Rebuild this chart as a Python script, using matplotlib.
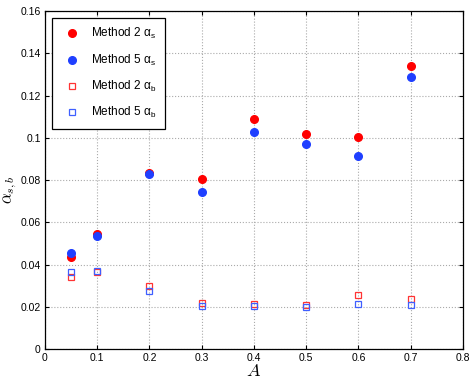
import matplotlib.pyplot as plt

A = [0.05, 0.1, 0.2, 0.3, 0.4, 0.5, 0.6, 0.7]
m2_as = [0.0435, 0.0545, 0.0835, 0.0806, 0.1090, 0.1018, 0.1005, 0.1338]
m5_as = [0.0455, 0.0535, 0.0828, 0.0741, 0.1027, 0.0969, 0.0915, 0.1289]
m2_ab = [0.0340, 0.0366, 0.0300, 0.0219, 0.0215, 0.0208, 0.0256, 0.0237]
m5_ab = [0.0365, 0.0368, 0.0273, 0.0202, 0.0202, 0.0197, 0.0211, 0.0206]

plt.rcParams['font.family'] = ['Liberation Sans', 'DejaVu Sans']
plt.rcParams['mathtext.fontset'] = 'custom'
plt.rcParams['mathtext.rm'] = 'Liberation Sans'
plt.rcParams['mathtext.it'] = 'Liberation Sans:italic'

fig = plt.figure(figsize=(4.71, 3.88), dpi=100)
ax = fig.add_axes([0.0955, 0.1005, 0.8875, 0.8711])

ax.plot(A, m2_as, 'o', color='#ff0000', ms=5.5, mec='#ff0000', label=r'Method 2 $\mathrm{\alpha_s}$')
ax.plot(A, m5_as, 'o', color='#1f3fff', ms=5.5, mec='#1f3fff', label=r'Method 5 $\mathrm{\alpha_s}$')
ax.plot(A, m2_ab, 's', mfc='none', mec='#ff3333', ms=4.5, mew=0.9, label=r'Method 2 $\mathrm{\alpha_b}$')
ax.plot(A, m5_ab, 's', mfc='none', mec='#3f5fff', ms=4.5, mew=0.9, label=r'Method 5 $\mathrm{\alpha_b}$')

ax.set_xlim(0, 0.8)
ax.set_ylim(0, 0.16)
ax.set_xticks([0, 0.1, 0.2, 0.3, 0.4, 0.5, 0.6, 0.7, 0.8])
ax.set_xticklabels(['0', '0.1', '0.2', '0.3', '0.4', '0.5', '0.6', '0.7', '0.8'])
ax.set_yticks([0, 0.02, 0.04, 0.06, 0.08, 0.1, 0.12, 0.14, 0.16])
ax.set_yticklabels(['0', '0.02', '0.04', '0.06', '0.08', '0.1', '0.12', '0.14', '0.16'])
ax.tick_params(direction='in', top=True, right=True, labelsize=7.5, length=3, pad=3)
ax.grid(True, linestyle=':', color='#aaaaaa', linewidth=0.8)
for s in ax.spines.values():
    s.set_linewidth(0.9)

ax.set_xlabel('$A$', fontsize=13, math_fontfamily='cm', labelpad=0)
ax.set_ylabel(r'$\alpha_{s,b}$', fontsize=12, math_fontfamily='cm')
ax.yaxis.set_label_coords(-0.063, 0.47)

leg = ax.legend(loc='upper left', fontsize=8.5, fancybox=False, edgecolor='black',
                framealpha=1, handletextpad=0.6, borderpad=0.7, labelspacing=0.95,
                handlelength=2.0, borderaxespad=0, bbox_to_anchor=(0.017, 0.979))
leg.get_frame().set_linewidth(0.9)

fig.savefig('out.png', dpi=100)
